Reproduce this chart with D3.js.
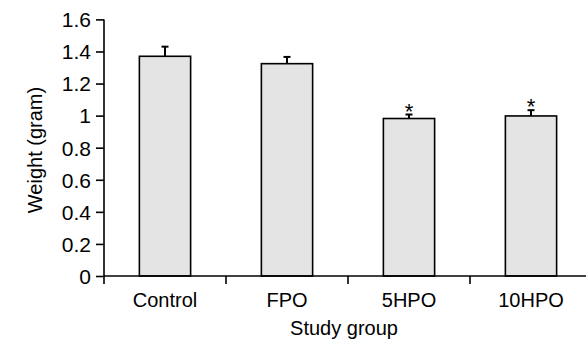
<!DOCTYPE html>
<html>
<head>
<script src="https://d3js.org/d3.v7.min.js"></script>
<style>
  body { margin: 0; background: #fff; }
  text { font-family: "Liberation Sans", Arial, sans-serif; fill: #000; }
</style>
</head>
<body>
<div id="chart"></div>
<script>
// data
const groups = ["Control", "FPO", "5HPO", "10HPO"];
const weights = [1.37, 1.324, 0.982, 0.998];
const errors = [0.06, 0.042, 0.025, 0.036];
const marks = ["", "", "*", "*"];
const yTicks = [0, 0.2, 0.4, 0.6, 0.8, 1, 1.2, 1.4, 1.6];

const W = 586, H = 345;
const fs = "20px";
const svg = d3.select("#chart").append("svg")
    .attr("width", W).attr("height", H);

const x = d3.scaleBand()
    .domain(groups)
    .range([104, 592])
    .paddingInner(0.58)
    .paddingOuter(0.29);

const y = d3.scaleLinear()
    .domain([0, 1.6])
    .range([276, 19.4]);

// bars
svg.selectAll("rect.bar")
    .data(groups)
    .enter().append("rect")
    .attr("class", "bar")
    .attr("x", d => x(d))
    .attr("width", x.bandwidth())
    .attr("y", (d, i) => y(weights[i]))
    .attr("height", (d, i) => y(0) - y(weights[i]))
    .attr("fill", "#e4e4e4")
    .attr("stroke", "#000")
    .attr("stroke-width", 1.6);

// upper error bars
const eb = svg.selectAll("g.err")
    .data(groups)
    .enter().append("g")
    .attr("class", "err");
eb.append("line")
    .attr("x1", d => x(d) + x.bandwidth() / 2)
    .attr("x2", d => x(d) + x.bandwidth() / 2)
    .attr("y1", (d, i) => y(weights[i]))
    .attr("y2", (d, i) => y(weights[i] + errors[i]))
    .attr("stroke", "#000").attr("stroke-width", 2);
eb.append("line")
    .attr("x1", d => x(d) + x.bandwidth() / 2 - 3.5)
    .attr("x2", d => x(d) + x.bandwidth() / 2 + 3.5)
    .attr("y1", (d, i) => y(weights[i] + errors[i]))
    .attr("y2", (d, i) => y(weights[i] + errors[i]))
    .attr("stroke", "#000").attr("stroke-width", 2);

// significance marks
svg.selectAll("text.sig")
    .data(groups)
    .enter().append("text")
    .attr("class", "sig")
    .attr("x", d => x(d) + x.bandwidth() / 2)
    .attr("y", (d, i) => y(weights[i] + errors[i]) + 4)
    .attr("text-anchor", "middle")
    .style("font-size", "22px")
    .text((d, i) => marks[i]);

// y axis
const yAxis = svg.append("g")
    .attr("transform", "translate(104,0)")
    .call(d3.axisLeft(y).tickValues(yTicks).tickSize(8).tickSizeOuter(0)
        .tickFormat(d => d3.format("")(+d.toFixed(1))));
yAxis.select(".domain").remove();
yAxis.append("line")
    .attr("x1", 0).attr("x2", 0)
    .attr("y1", y(1.6)).attr("y2", y(0) + 8)
    .attr("stroke", "#000").attr("stroke-width", 1.6);
yAxis.selectAll(".tick line").attr("stroke", "#000").attr("stroke-width", 1.6);
yAxis.selectAll(".tick text")
    .attr("x", -13)
    .attr("dy", "0.35em")
    .style("font-size", "21px")
    .style("font-family", "'Liberation Sans', Arial, sans-serif");

// x axis
const xAxis = svg.append("g")
    .attr("transform", `translate(0,${y(0)})`);
xAxis.append("line")
    .attr("x1", 104).attr("x2", W)
    .attr("stroke", "#000").attr("stroke-width", 1.6);
xAxis.selectAll("line.sep")
    .data(groups.slice(1))
    .enter().append("line")
    .attr("class", "sep")
    .attr("x1", d => x(d) - x.step() * x.paddingInner() / 2)
    .attr("x2", d => x(d) - x.step() * x.paddingInner() / 2)
    .attr("y1", 0).attr("y2", 8)
    .attr("stroke", "#000").attr("stroke-width", 1.6);
xAxis.selectAll("text.cat")
    .data(groups)
    .enter().append("text")
    .attr("class", "cat")
    .attr("x", d => x(d) + x.bandwidth() / 2)
    .attr("y", 31)
    .attr("text-anchor", "middle")
    .style("font-size", fs)
    .text(d => d);

// axis titles
svg.append("text")
    .attr("x", 344).attr("y", 335)
    .attr("text-anchor", "middle")
    .style("font-size", fs)
    .text("Study group");
svg.append("text")
    .attr("transform", "translate(42,150) rotate(-90)")
    .attr("text-anchor", "middle")
    .style("font-size", fs)
    .text("Weight (gram)");
</script>
</body>
</html>
